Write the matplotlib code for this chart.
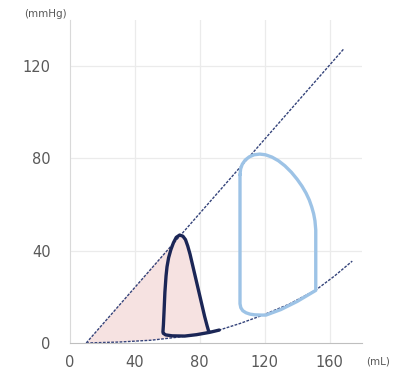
import numpy as np
import matplotlib.pyplot as plt

# ESPVR line (volume mL, pressure mmHg)
espvr_v = [10, 169]
espvr_p = [0, 127.7]

# EDPVR curve
edpvr_v = [10, 30, 50, 65, 80, 92, 105, 118.6, 135, 151.6, 163, 174]
edpvr_p = [0, 0.4, 1.2, 2.4, 3.8, 5.6, 8.5, 12, 16.8, 23, 29, 35.5]

# dark (small) PV loop
dark_v = [92, 86, 78, 70.7, 63, 59, 57.5, 57.3, 57.6, 58, 58.5, 59.2, 59.8,
          60.8, 62.2, 63.8, 65.5, 67.6, 69.6, 71.2, 72.6, 74, 75.5, 77,
          78.5, 80, 81.5, 83, 84.5, 85.6]
dark_p = [5.6, 4.6, 3.6, 3.0, 3.1, 3.5, 4.2, 4.8, 8, 14, 22, 29, 33,
          37, 40.5, 43.5, 45.8, 46.8, 46.3, 44.8, 42, 38.5, 34, 29.5,
          25, 20.5, 16, 11.5, 7.5, 4.8]
PEAK = 17  # index of the peak point in the dark loop

# light blue (large) PV loop
blue_v = [104.8, 104.8, 104.8, 105.3, 106.5, 108.5, 111, 114, 118, 120.8,
          130, 140, 151.5, 151.5, 151.5, 151, 150.2, 149, 147.5, 145.5,
          143, 140, 136.5, 132.5, 128.5, 124.5, 120.5, 117, 113.5, 110.5,
          108, 106.2, 105.2, 104.8]
blue_p = [73, 40, 17, 15.3, 14, 13.1, 12.5, 12.2, 12.1, 12.1,
          14.5, 18, 22.8, 35, 49, 53, 56, 59, 62, 65,
          68, 71, 74, 76.8, 79, 80.6, 81.6, 81.9, 81.6, 80.7,
          79.3, 77.5, 75.5, 73]

xticks = [0, 40, 80, 120, 160]
yticks = [0, 40, 80, 120]

fig = plt.figure(figsize=(4.06, 3.72), dpi=100)
ax = fig.add_axes([0.1724, 0.078, 0.7192, 0.868])
ax.set_xlim(0, 180)
ax.set_ylim(0, 140)

# grid
for x in xticks[1:]:
    ax.axvline(x, color="#ebebeb", lw=0.9, zorder=0)
for y in yticks[1:]:
    ax.axhline(y, color="#ebebeb", lw=0.9, zorder=0)

# pink area: ESPVR up to peak, down the loop's right side, back along EDPVR
fill_v = [espvr_v[0]] + dark_v[PEAK:]
fill_p = [espvr_p[0]] + dark_p[PEAK:]
low_v = [v for v in edpvr_v if v < dark_v[-1]][::-1]
low_p = [p for v, p in zip(edpvr_v, edpvr_p) if v < dark_v[-1]][::-1]
ax.fill(fill_v + low_v, fill_p + low_p, color="#f6e2e1", lw=0, zorder=1)

dash = dict(color="#34437a", lw=1.0, dashes=(2.0, 1.0), zorder=2)
ax.plot(espvr_v, espvr_p, **dash)
ax.plot(edpvr_v, edpvr_p, **dash)

ax.plot(blue_v, blue_p, color="#9dc3e6", lw=2.4, zorder=3,
        solid_joinstyle="round", solid_capstyle="round")
ax.plot(dark_v, dark_p, color="#1b2656", lw=2.4, zorder=4,
        solid_joinstyle="round", solid_capstyle="round")

ax.spines["top"].set_visible(False)
ax.spines["right"].set_visible(False)
ax.spines["left"].set_color("#d9d9d9")
ax.spines["bottom"].set_color("#bfbfbf")
ax.set_xticks(xticks)
ax.set_yticks(yticks)
ax.tick_params(length=0, labelsize=10.5, labelcolor="#595959")
ax.tick_params(axis="x", pad=9)
ax.tick_params(axis="y", pad=14)

fig.text(0.113, 0.962, "(mmHg)", fontsize=7.5, color="#595959", ha="center", va="center")
fig.text(0.93, 0.027, "(mL)", fontsize=7.5, color="#595959", ha="center", va="center")

fig.savefig("out.png", dpi=100)
